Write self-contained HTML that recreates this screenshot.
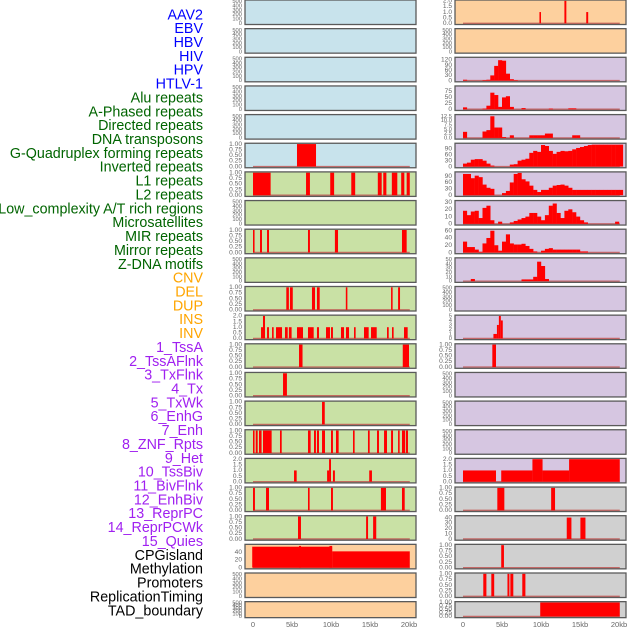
<!DOCTYPE html>
<html><head><meta charset="utf-8">
<style>
html,body{margin:0;padding:0;background:#fff;}
svg{display:block;font-family:"Liberation Sans",sans-serif;}
</style></head>
<body>
<svg id="chart" width="630" height="630" viewBox="0 0 630 630"></svg>
<script>
// ---- Data ----
const trackLabels = ["AAV2","EBV","HBV","HIV","HPV","HTLV-1","Alu repeats","A-Phased repeats","Directed repeats","DNA transposons","G-Quadruplex forming repeats","Inverted repeats","L1 repeats","L2 repeats","Low_complexity A/T rich regions","Microsatellites","MIR repeats","Mirror repeats","Z-DNA motifs","CNV","DEL","DUP","INS","INV","1_TssA","2_TssAFlnk","3_TxFlnk","4_Tx","5_TxWk","6_EnhG","7_Enh","8_ZNF_Rpts","9_Het","10_TssBiv","11_BivFlnk","12_EnhBiv","13_ReprPC","14_ReprPCWk","15_Quies","CPGisland","Methylation","Promoters","ReplicationTiming","TAD_boundary"];
const labelGroups = ["v","v","v","v","v","v","r","r","r","r","r","r","r","r","r","r","r","r","r","s","s","s","s","s","c","c","c","c","c","c","c","c","c","c","c","c","c","c","c","o","o","o","o","o"];
const xTickLabels = ["0","5kb","10kb","15kb","20kb"];
const xTickValues = [0,5,10,15,20];

const L6 = [[5.64,8.08,1]];
const L7 = [[0,2.26,1],[6.8,7.3,1],[9.9,10.4,1],[12.6,13.1,1],[16.0,16.5,1],[16.7,17.1,1],[17.8,18.5,1],[19.0,19.4,1],[19.7,20.1,1]];
const L9 = [[0,0.2,1],[0.9,1.15,1],[1.8,2.05,1],[7.05,7.3,1],[10.5,10.9,1],[19.1,19.7,1]];
const L11 = [[4.27,4.6,1],[4.74,5.1,1],[7.56,7.95,1],[8.2,8.55,1],[11.9,12.1,1],[17.7,17.9,1],[18.6,18.85,1]];
const L12 = [[1.03,1.28,1],[1.28,1.54,2],[1.8,2.05,1],[2.44,2.65,1],[2.95,3.72,1],[4.1,4.45,1],[4.6,4.95,1],[5.64,6.41,1],[7.05,7.78,1],[8.2,8.46,1],[9.36,9.87,1],[10.0,10.25,1],[11.28,11.67,1],[11.92,12.31,1],[12.95,13.16,1],[14.23,14.83,1],[15.13,15.86,1],[17.18,17.4,1],[17.82,18.03,1],[19.36,19.83,1]];
const L13 = [[5.9,6.35,1],[19.2,20.0,1]];
const L14 = [[3.85,4.35,1]];
const L15 = [[8.85,9.2,1]];
const L16 = [[0,0.2,1],[0.35,0.6,1],[0.77,1.1,1],[1.28,2.39,1],[3.46,3.68,1],[7.05,7.39,1],[7.82,8.07,1],[8.2,8.46,1],[8.85,9.23,1],[10.0,10.25,1],[10.64,10.98,1],[12.82,13.03,1],[14.74,14.96,1],[15.9,16.15,1],[16.8,17.18,1],[17.7,17.95,1],[18.6,18.8,1],[19.1,19.5,1],[19.6,19.87,1]];
const L17 = [[5.26,5.6,1],[9.5,9.75,1],[9.75,10.0,2],[10.25,10.5,1],[14.9,15.25,1]];
const L18 = [[0,0.25,1],[1.67,2.05,1],[7.05,7.26,1],[10.0,10.25,1],[16.4,17.05,1],[19.1,19.45,1]];
const L19 = [[5.77,6.15,1],[14.5,14.75,1],[15.4,15.8,1]];
const L20 = [[-0.1,10.15,54],[5.9,6.15,56],[9.8,10.15,56],[10.15,20.1,42]];

const R3 = [5,0,0,0,0,3,5,30,85,118,115,40,8,3];
const R4 = [8,0,0,0,0,3,15,70,60,10,50,55,10,0,0,5,0,0,0,0,0,0,3,0,0,0,0,4,4];
const R5 = [3.5,0,0,0,0,3.7,4.5,12.5,6,6,0.5,0,1.5,0,0,0,0,1.5,1.5,1.5,1.5,2.5,2.5,0,0,0,0,0,1.5,1.5];
const R6 = [15,20,35,38,38,30,15,5,0,0,0,0,10,12,30,35,40,70,80,75,110,105,80,65,75,80,78,80,88,95,100,105,110,112,112,112,112,112,112,112,112];
const R7 = [100,100,80,92,85,50,35,30,0,0,10,20,60,100,105,75,65,45,25,15,25,25,35,45,48,50,45,35,25,25,25,25,25,25,25,25,25,25,25,25,25];
const R8 = [18,12,17,18,8,22,25,5,0,3,0,0,2,4,6,8,10,15,15,10,5,12,25,28,15,8,18,20,16,10,5,2,0,0,0,0,0,0,0,3,0];
const R9 = [30,15,15,8,2,25,40,60,20,5,30,50,25,22,22,24,18,10,3,0,5,10,12,8,8,8,8,8,8,8,3,3];
const R10 = [0,0,5,0,0,0,0,0,0,0,0,0,0,0,0,4,4,4,10,45,35,5];
const R1 = [[9.8,10.0,1],[13.0,13.25,2],[15.8,16.05,1]];
const R12 = [[3.9,4.35,1],[4.35,4.6,3],[4.6,4.85,5],[4.85,5.1,4]];
const R13 = [[3.76,4.23,1]];
const R17 = [[0,4.23,1],[4.9,8.9,1],[8.9,10.2,2],[10.2,13.6,1],[13.6,20.1,2]];
const R18 = [[4.4,5.3,1],[11.3,11.8,1]];
const R19 = [[13.3,13.9,40],[15.05,15.7,40]];
const R20 = [[4.9,5.25,1]];
const R21 = [[2.6,3.0,1],[3.63,4.0,1],[5.7,5.95,1],[6.07,6.45,1],[7.6,8.0,1]];
const R22 = [[9.9,20.1,1]];

const T500 = ["0","100","200","300","400","500"];
const T1 = ["0.00","0.25","0.50","0.75","1.00"];
const T2 = ["0.0","0.5","1.0","1.5","2.0"];

const leftPanels = [
 [null,null,520,T500,[0,100,200,300,400,500],"#c8e3ec"],
 [null,null,520,T500,[0,100,200,300,400,500],"#c8e3ec"],
 [null,null,520,T500,[0,100,200,300,400,500],"#c8e3ec"],
 [null,null,520,T500,[0,100,200,300,400,500],"#c8e3ec"],
 [null,null,520,T500,[0,100,200,300,400,500],"#c8e3ec"],
 [L6,null,1,T1,[0,0.25,0.5,0.75,1],"#c8e3ec"],
 [L7,null,1,T1,[0,0.25,0.5,0.75,1],"#c9e1a5"],
 [null,null,520,T500,[0,100,200,300,400,500],"#c9e1a5"],
 [L9,null,1,T1,[0,0.25,0.5,0.75,1],"#c9e1a5"],
 [null,null,520,T500,[0,100,200,300,400,500],"#c9e1a5"],
 [L11,null,1,T1,[0,0.25,0.5,0.75,1],"#c9e1a5"],
 [L12,null,2,T2,[0,0.5,1,1.5,2],"#c9e1a5"],
 [L13,null,1,T1,[0,0.25,0.5,0.75,1],"#c9e1a5"],
 [L14,null,1,T1,[0,0.25,0.5,0.75,1],"#c9e1a5"],
 [L15,null,1,T1,[0,0.25,0.5,0.75,1],"#c9e1a5"],
 [L16,null,1,T1,[0,0.25,0.5,0.75,1],"#c9e1a5"],
 [L17,null,2,T2,[0,0.5,1,1.5,2],"#c9e1a5"],
 [L18,null,1,T1,[0,0.25,0.5,0.75,1],"#c9e1a5"],
 [L19,null,1,T1,[0,0.25,0.5,0.75,1],"#c9e1a5"],
 [L20,null,58,["0","20","40"],[0,20,40],"#fdd09e"],
 [null,null,520,T500,[0,100,200,300,400,500],"#fdd09e"],
 [null,null,520,T500,[0,100,200,300,400,500],"#fdd09e"]
];
const rightPanels = [
 [R1,null,2,T2,[0,0.5,1,1.5,2],"#fdd09e"],
 [null,null,520,T500,[0,100,200,300,400,500],"#fdd09e"],
 [null,R3,130,["0","30","60","90","120"],[0,30,60,90,120],"#d6c6e1"],
 [null,R4,95,["0","25","50","75"],[0,25,50,75],"#d6c6e1"],
 [null,R5,13,["0.0","2.5","5.0","7.5","10.0","12.5"],[0,2.5,5,7.5,10,12.5],"#d6c6e1"],
 [null,R6,115,["0","30","60","90"],[0,30,60,90],"#d6c6e1"],
 [null,R7,106,["0","30","60","90"],[0,30,60,90],"#d6c6e1"],
 [null,R8,31,["0","10","20","30"],[0,10,20,30],"#d6c6e1"],
 [null,R9,62,["0","20","40","60"],[0,20,40,60],"#d6c6e1"],
 [null,R10,52,["0","10","20","30","40","50"],[0,10,20,30,40,50],"#d6c6e1"],
 [null,null,520,T500,[0,100,200,300,400,500],"#d6c6e1"],
 [R12,null,5,["0","1","2","3","4","5"],[0,1,2,3,4,5],"#d6c6e1"],
 [R13,null,1,T1,[0,0.25,0.5,0.75,1],"#d6c6e1"],
 [null,null,520,T500,[0,100,200,300,400,500],"#d6c6e1"],
 [null,null,520,T500,[0,100,200,300,400,500],"#d6c6e1"],
 [null,null,520,T500,[0,100,200,300,400,500],"#d6c6e1"],
 [R17,null,2,T2,[0,0.5,1,1.5,2],"#d6c6e1"],
 [R18,null,1,T1,[0,0.25,0.5,0.75,1],"#d0d0d0"],
 [R19,null,42,["0","10","20","30","40"],[0,10,20,30,40],"#d0d0d0"],
 [R20,null,1,T1,[0,0.25,0.5,0.75,1],"#d0d0d0"],
 [R21,null,1,T1,[0,0.25,0.5,0.75,1],"#d0d0d0"],
 [R22,null,1,T1,[0,0.25,0.5,0.75,1],"#d0d0d0"]
];

const NS = "http://www.w3.org/2000/svg";
const svg = document.getElementById("chart");
const groupColor = {v:"#0000ff", r:"#006400", s:"#ffa500", c:"#a020f0", o:"#000000"};
function mk(tag, attrs, parent){
  const e = document.createElementNS(NS, tag);
  for (const k in attrs) e.setAttribute(k, attrs[k]);
  (parent||svg).appendChild(e);
  return e;
}

trackLabels.forEach((t,i)=>{
  const el = mk("text",{x:203,y:15.5+i*13.86,"text-anchor":"end","dominant-baseline":"middle","font-size":"14.3",fill:groupColor[labelGroups[i]]});
  
  
  el.textContent = t;
});

function rowTop(i){ return i*28.65; }
function rowH(i){ return i===21 ? 16 : 24.5; }

function drawColumn(panels, x0, kbScale, colName){
  const left = x0 - 8, right = x0 + 163;
  const xs = kb => x0 + kb*kbScale;
  panels.forEach((p,i)=>{
    const [bars,hist,ymax,tl,tv,bg] = p;
    const T = rowTop(i), H = rowH(i);
    const g = mk("g",{});
    
    
    const bgRect = mk("rect",{x:left,y:T,width:right-left,height:H,fill:bg},g);
    
    
    const bot = T + H - 1.2, top = T + 0.8;
    const ys = v => bot - v/ymax*(bot-top);
    if (bars || hist){
      const bl = mk("line",{x1:xs(0),x2:xs(20.1),y1:bot,y2:bot,stroke:"#c0504d","stroke-width":1.4,opacity:0.8},g);
      
      
    }
    if (bars){
      bars.forEach(b=>{
        const r = mk("rect",{x:xs(b[0]),y:ys(b[2]),width:Math.max(1.2,xs(b[1])-xs(b[0])),height:bot-ys(b[2]),fill:"#ff0000"},g);
        
        
      });
    }
    if (hist){
      hist.forEach((v,k)=>{
        if (v<=0) return;
        const r = mk("rect",{x:xs(k*0.5),y:ys(v),width:xs((k+1)*0.5)-xs(k*0.5)+0.2,height:bot-ys(v),fill:"#ff0000"},g);
        
        
      });
    }
    const fr = mk("rect",{x:left,y:T,width:right-left,height:H,fill:"none",stroke:"#5a5a5a","stroke-width":1.3},g);
    
    
    const fs = tl.length>5 ? 5.8 : 6.6;
    tl.forEach((lab,k)=>{
      const t = mk("text",{x:left-3,y:ys(tv[k]),"text-anchor":"end","dominant-baseline":"middle","font-size":fs,fill:"#666"},g);
      
      
      t.textContent = lab;
    });
  });
  xTickValues.forEach((v,k)=>{
    const t = mk("text",{x:xs(v),y:627,"text-anchor":"middle","font-size":"7.5",fill:"#666"});
    
    
    t.textContent = xTickLabels[k];
  });
}
drawColumn(leftPanels, 253, 7.8, "left");
drawColumn(rightPanels, 463, 7.8, "right");
</script>
</body></html>
